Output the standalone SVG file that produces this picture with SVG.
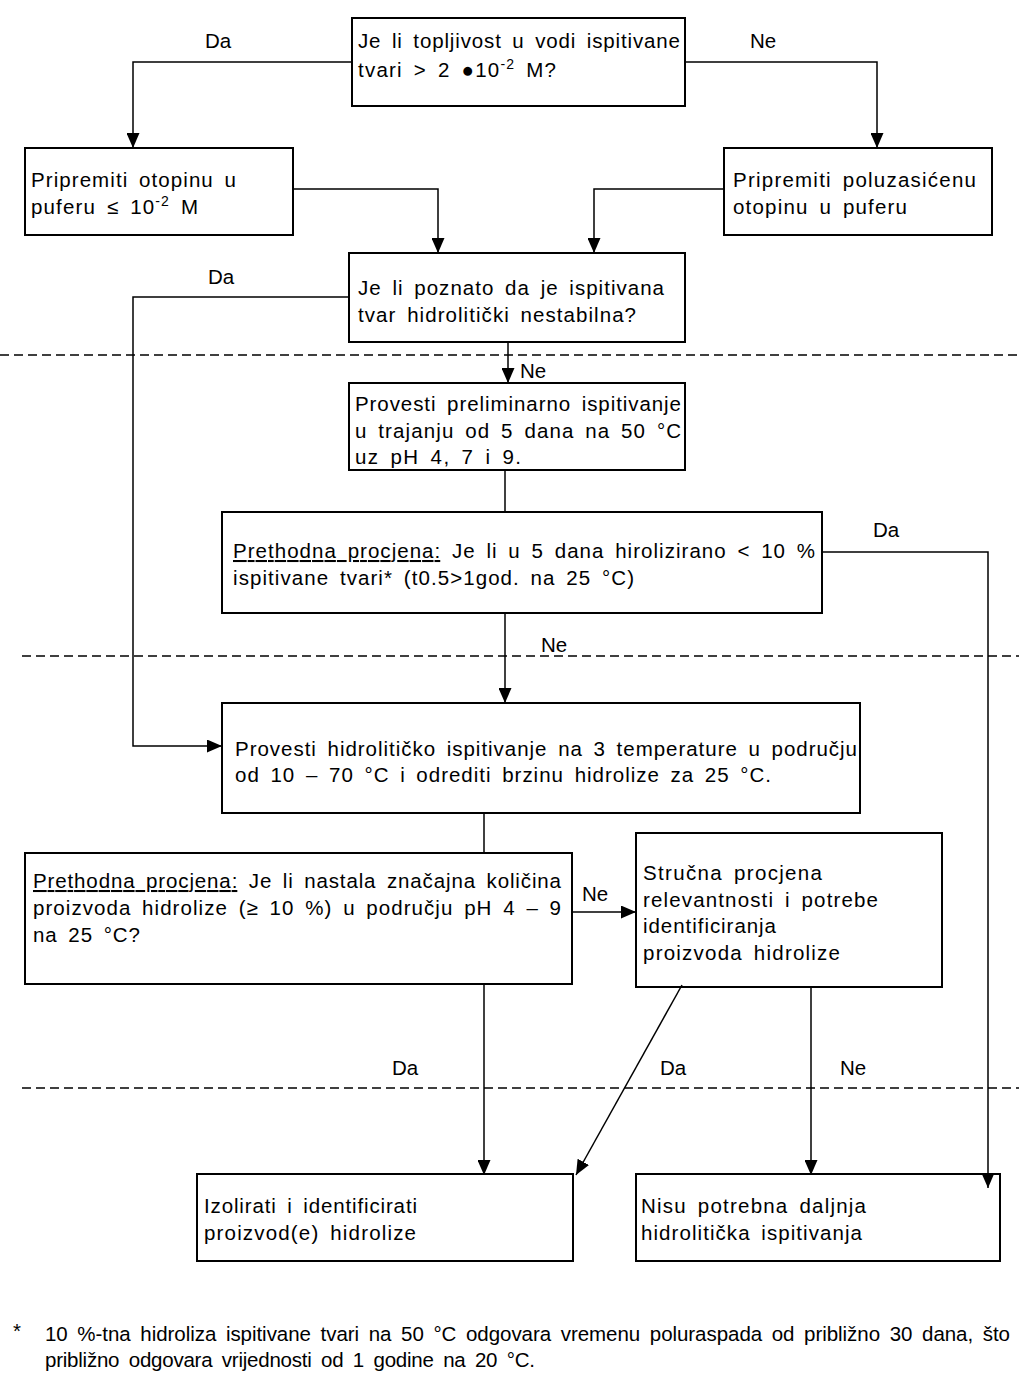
<svg xmlns="http://www.w3.org/2000/svg" width="1019" height="1378" viewBox="0 0 1019 1378">
<style>
text{font-family:"Liberation Sans",Arial,sans-serif;font-size:20.5px;fill:#000;word-spacing:4px}
.box{fill:#fff;stroke:#000;stroke-width:2}
.ln{fill:none;stroke:#000;stroke-width:1.5}
.dash{fill:none;stroke:#000;stroke-width:1.5;stroke-dasharray:9 5}
.u{text-decoration:underline}
</style>
<defs>
<marker id="ah" viewBox="0 0 15 13" refX="15" refY="6.5" markerWidth="15" markerHeight="13" markerUnits="userSpaceOnUse" orient="auto">
<path d="M0,0 L15,6.5 L0,13 Z" fill="#000"/>
</marker>
</defs>
<rect width="1019" height="1378" fill="#fff"/>
<g id="separators">
<line class="dash" x1="0" y1="355" x2="1019" y2="355"/>
<line class="dash" x1="22" y1="656" x2="1019" y2="656"/>
<line class="dash" x1="22" y1="1088" x2="1019" y2="1088"/>
</g>
<g id="labels">
<text x="205" y="48">Da</text>
<text x="750" y="48">Ne</text>
<text x="208" y="284">Da</text>
<text x="520" y="378">Ne</text>
<text x="873" y="537">Da</text>
<text x="541" y="652">Ne</text>
<text x="582" y="901">Ne</text>
<text x="392" y="1075">Da</text>
<text x="660" y="1075">Da</text>
<text x="840" y="1075">Ne</text>
</g>
<g id="n1">
<rect class="box" x="352" y="18" width="333" height="88"/>
<text x="358" y="48" textLength="322" lengthAdjust="spacing">Je li topljivost u vodi ispitivane</text>
<text x="358" y="77" textLength="198" lengthAdjust="spacing">tvari &gt; 2 ●10<tspan dy="-8" font-size="14">-2</tspan><tspan dy="8"> M?</tspan></text>
</g>
<g id="n2">
<rect class="box" x="25" y="148" width="268" height="87"/>
<text x="31" y="187" textLength="205" lengthAdjust="spacing">Pripremiti otopinu u</text>
<text x="31" y="214" textLength="167" lengthAdjust="spacing">puferu ≤ 10<tspan dy="-8" font-size="14">-2</tspan><tspan dy="8"> M</tspan></text>
</g>
<g id="n3">
<rect class="box" x="724" y="148" width="268" height="87"/>
<text x="733" y="187" textLength="243" lengthAdjust="spacing">Pripremiti poluzasićenu</text>
<text x="733" y="214" textLength="174" lengthAdjust="spacing">otopinu u puferu</text>
</g>
<g id="n4">
<rect class="box" x="349" y="253" width="336" height="89"/>
<text x="358" y="295" textLength="306" lengthAdjust="spacing">Je li poznato da je ispitivana</text>
<text x="358" y="322" textLength="278" lengthAdjust="spacing">tvar hidrolitički nestabilna?</text>
</g>
<g id="n5">
<rect class="box" x="349" y="383" width="336" height="87"/>
<text x="355" y="411" textLength="326" lengthAdjust="spacing">Provesti preliminarno ispitivanje</text>
<text x="355" y="438" textLength="326" lengthAdjust="spacing">u trajanju od 5 dana na 50 °C</text>
<text x="355" y="464" textLength="166" lengthAdjust="spacing">uz pH 4, 7 i 9.</text>
</g>
<g id="n6">
<rect class="box" x="222" y="512" width="600" height="101"/>
<text x="233" y="558" textLength="582" lengthAdjust="spacing"><tspan class="u">Prethodna procjena:</tspan> Je li u 5 dana hirolizirano &lt; 10 %</text>
<text x="233" y="585" textLength="401" lengthAdjust="spacing">ispitivane tvari* (t0.5&gt;1god. na 25 °C)</text>
</g>
<g id="n7">
<rect class="box" x="222" y="703" width="638" height="110"/>
<text x="235" y="756" textLength="622" lengthAdjust="spacing">Provesti hidrolitičko ispitivanje na 3 temperature u području</text>
<text x="235" y="782" textLength="536" lengthAdjust="spacing">od 10 – 70 °C i odrediti brzinu hidrolize za 25 °C.</text>
</g>
<g id="n8">
<rect class="box" x="25" y="853" width="547" height="131"/>
<text x="33" y="888" textLength="528" lengthAdjust="spacing"><tspan class="u">Prethodna procjena:</tspan> Je li nastala značajna količina</text>
<text x="33" y="915" textLength="528" lengthAdjust="spacing">proizvoda hidrolize (≥ 10 %) u području pH 4 – 9</text>
<text x="33" y="942" textLength="107" lengthAdjust="spacing">na 25 °C?</text>
</g>
<g id="n9">
<rect class="box" x="636" y="833" width="306" height="154"/>
<text x="643" y="880" textLength="179" lengthAdjust="spacing">Stručna procjena</text>
<text x="643" y="907" textLength="235" lengthAdjust="spacing">relevantnosti i potrebe</text>
<text x="643" y="933" textLength="133" lengthAdjust="spacing">identificiranja</text>
<text x="643" y="960" textLength="197" lengthAdjust="spacing">proizvoda hidrolize</text>
</g>
<g id="n10">
<rect class="box" x="197" y="1174" width="376" height="87"/>
<text x="204" y="1213" textLength="213" lengthAdjust="spacing">Izolirati i identificirati</text>
<text x="204" y="1240" textLength="212" lengthAdjust="spacing">proizvod(e) hidrolize</text>
</g>
<g id="n11">
<rect class="box" x="636" y="1174" width="364" height="87"/>
<text x="641" y="1213" textLength="225" lengthAdjust="spacing">Nisu potrebna daljnja</text>
<text x="641" y="1240" textLength="221" lengthAdjust="spacing">hidrolitička ispitivanja</text>
</g>
<g id="connectors">
<polyline class="ln" points="352,62 133,62 133,148" marker-end="url(#ah)"/>
<polyline class="ln" points="685,62 877,62 877,148" marker-end="url(#ah)"/>
<polyline class="ln" points="293,189 438,189 438,253" marker-end="url(#ah)"/>
<polyline class="ln" points="724,189 594,189 594,253" marker-end="url(#ah)"/>
<polyline class="ln" points="349,297 133,297 133,746 222,746" marker-end="url(#ah)"/>
<polyline class="ln" points="508,342 508,383" marker-end="url(#ah)"/>
<polyline class="ln" points="505,470 505,512"/>
<polyline class="ln" points="822,552 988,552 988,1188" marker-end="url(#ah)"/>
<polyline class="ln" points="505,613 505,703" marker-end="url(#ah)"/>
<polyline class="ln" points="484,813 484,853"/>
<polyline class="ln" points="572,912 636,912" marker-end="url(#ah)"/>
<polyline class="ln" points="484,984 484,1175" marker-end="url(#ah)"/>
<polyline class="ln" points="682,985 576,1175" marker-end="url(#ah)"/>
<polyline class="ln" points="811,987 811,1175" marker-end="url(#ah)"/>
</g>
<g id="footnote">
<text x="13" y="1338" font-size="17">*</text>
<text x="45" y="1341" font-size="18" textLength="965" lengthAdjust="spacing">10 %-tna hidroliza ispitivane tvari na 50 °C odgovara vremenu poluraspada od približno 30 dana, što</text>
<text x="45" y="1367" font-size="18" textLength="490" lengthAdjust="spacing">približno odgovara vrijednosti od 1 godine na 20 °C.</text>
</g>
</svg>
